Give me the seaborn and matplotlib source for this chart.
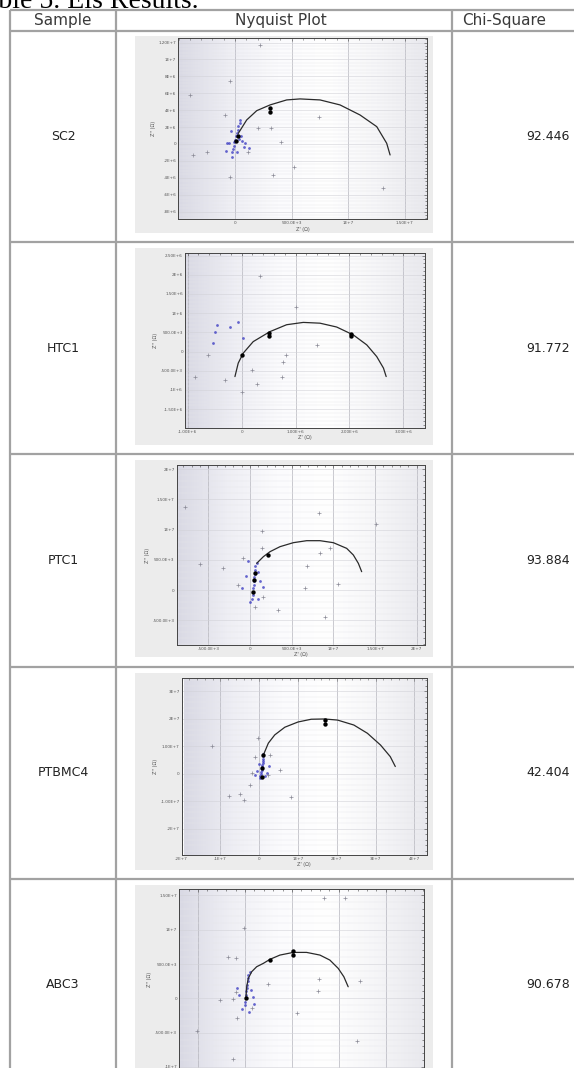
import numpy as np
import pandas as pd
import matplotlib
matplotlib.use("Agg")
import matplotlib.pyplot as plt
from matplotlib.patches import Rectangle
from matplotlib.colors import LinearSegmentedColormap
from matplotlib.ticker import AutoMinorLocator
import seaborn as sns

# ---- donnees du tableau ----
samples = ["SC2", "HTC1", "PTC1", "PTBMC4", "ABC3"]
chi_square = ["92.446", "91.772", "93.884", "42.404", "90.678"]
headers = ["Sample", "Nyquist Plot", "Chi-Square"]

sc2_arc = [(0.29, 1.26), (1.03, 2.84), (1.92, 3.94), (3.10, 4.62), (4.57, 5.21), (5.75, 5.33),
           (7.52, 5.21), (9.29, 4.62), (11.06, 3.43), (12.54, 2.05), (13.42, 0.08), (13.72, -1.30)]
sc2_blue = [(-0.3, -1.5), (-0.25, -1.0), (-0.2, -0.6), (-0.1, -0.2), (-0.05, 0.2), (0.0, 0.5),
            (0.1, 0.9), (0.2, 1.3), (0.25, 1.7), (0.3, 2.1), (0.4, 2.5), (0.44, 2.84), (-0.5, 0.1),
            (0.6, 0.3), (0.8, -0.4), (-0.8, -0.8), (0.15, -0.9), (0.5, 1.0), (-0.4, 1.5),
            (1.2, -0.5), (0.35, 0.6), (-0.73, 0.08), (0.9, 0.08)]
sc2_black = [(3.1, 3.8), (3.1, 4.3), (0.3, 1.0), (0.1, 0.4)]
sc2_gray = [(2.2, 11.7), (-0.44, 7.4), (-4.0, 5.8), (7.4, 3.2), (3.2, 1.86), (2.0, 1.9), (4.1, 0.27),
            (5.2, -2.7), (3.4, -3.7), (-0.44, -3.9), (13.1, -5.2), (-3.7, -1.3), (-2.5, -0.9),
            (1.15, -0.9), (-0.9, 3.4)]

htc1_arc = [(-0.124, -0.651), (-0.063, -0.30), (0.03, -0.04), (0.215, 0.26), (0.525, 0.52),
            (0.835, 0.70), (1.143, 0.76), (1.453, 0.74), (1.762, 0.64), (2.07, 0.435),
            (2.32, 0.175), (2.505, -0.13), (2.63, -0.43), (2.68, -0.65)]
htc1_blue = [(-0.46, 0.70), (-0.22, 0.63), (-0.06, 0.78), (0.03, 0.35), (-0.53, 0.22), (-0.5, 0.52)]
htc1_black = [(0.0, -0.09), (0.51, 0.48), (2.03, 0.46), (0.51, 0.40), (2.03, 0.40)]
htc1_gray = [(0.34, 1.97), (1.0, 1.16), (-0.62, -0.09), (-0.87, -0.65), (-0.31, -0.74), (0.19, -0.48),
             (0.28, -0.84), (0.0, -1.04), (0.74, -0.65), (0.77, -0.26), (0.82, -0.09), (1.39, 0.17)]

ptc1_arc = [(0.8, 4.42), (1.6, 5.52), (2.4, 6.35), (3.6, 7.18), (5.2, 7.84), (6.8, 8.17), (8.4, 8.17),
            (10.0, 7.84), (11.6, 6.9), (12.4, 5.8), (13.0, 4.42), (13.4, 3.04)]
ptc1_blue = [(0.2, -1.5), (0.3, -0.8), (0.4, -0.3), (0.4, 0.3), (0.45, 0.9), (0.5, 1.5), (0.5, 2.1),
             (0.55, 2.7), (0.6, 3.3), (0.6, 3.9), (0.8, 4.5), (-0.5, 2.3), (1.2, 1.5), (0.9, -1.5),
             (-0.3, 4.8), (1.5, 0.5), (-1.0, 0.4), (0.0, -2.0), (1.0, 3.0)]
ptc1_black = [(0.6, 2.8), (0.4, -0.3), (2.2, 5.8), (0.5, 1.6)]
ptc1_gray = [(-7.8, 13.7), (8.3, 12.7), (15.1, 10.9), (1.4, 9.7), (1.4, 6.9), (-6.0, 4.26),
             (-3.2, 3.6), (-0.8, 5.25), (6.8, 4.0), (8.4, 6.1), (9.6, 6.9), (10.6, 1.0), (6.6, 0.3),
             (-1.4, 0.83), (3.4, -3.3), (0.6, -2.8), (1.6, -1.1), (9.0, -4.4)]

ptbmc4_arc = [(1.07, 6.9), (2.35, 11.2), (4.0, 14.2), (6.6, 17.0), (10.0, 18.9), (13.4, 19.9),
              (16.8, 20.0), (20.2, 19.6), (24.4, 17.8), (27.9, 14.8), (31.3, 10.5), (33.8, 6.3),
              (35.1, 2.7)]
ptbmc4_blue = [(0.2, -1.6), (0.3, -0.8), (0.4, 0.0), (0.5, 0.8), (0.6, 1.6), (0.7, 2.4), (0.8, 3.2),
               (0.9, 4.0), (0.95, 4.8), (1.0, 5.6), (1.05, 6.4), (1.07, 7.3), (-0.5, 1.2), (2.0, 0.5),
               (1.5, -0.8), (-1.0, -0.5), (2.5, 3.0), (0.0, 3.5)]
ptbmc4_black = [(17.0, 18.0), (17.0, 19.6), (1.07, 6.9), (0.6, -1.0), (0.8, 2.0)]
ptbmc4_gray = [(-12.1, 10.2), (-0.2, 13.0), (-1.0, 6.1), (2.8, 6.9), (5.3, 1.5), (2.3, -0.4),
               (-2.3, -4.0), (-7.9, -7.9), (-4.9, -7.3), (-4.0, -9.5), (8.3, -8.3), (-1.9, 0.3)]

abc3_arc = [(0.11, 0.24), (0.18, 1.69), (0.35, 2.92), (0.71, 3.88), (1.24, 4.61), (1.95, 5.1),
            (2.66, 5.69), (3.72, 6.31), (5.14, 6.7), (6.56, 6.7), (7.98, 6.31), (9.04, 5.58),
            (9.93, 4.37), (10.53, 3.15), (10.99, 1.69)]
abc3_blue = [(0.0, -1.0), (0.05, -0.5), (0.1, 0.0), (0.12, 0.5), (0.15, 1.0), (0.2, 1.5), (0.22, 2.0),
             (0.28, 2.5), (0.3, 3.0), (0.35, 3.4), (0.5, 3.8), (-0.6, 0.5), (0.8, 0.2), (-0.3, -1.5),
             (1.0, -0.8), (0.6, 1.2), (-0.9, 1.5), (0.4, -2.0)]
abc3_black = [(2.66, 5.6), (5.14, 6.31), (5.14, 6.9), (0.11, 0.1)]
abc3_gray = [(8.4, 14.7), (10.6, 14.7), (-0.1, 10.2), (-1.77, 6.0), (-0.96, 5.83), (-0.96, 0.96),
             (-2.66, -0.25), (-1.24, -0.15), (0.71, -1.46), (-0.82, -2.92), (5.5, -2.19), (2.48, 2.08),
             (7.9, 2.77), (7.8, 1.11), (12.2, 2.57), (-5.07, -4.72), (11.9, -6.18), (-1.3, -8.9)]

# graduations (unite : 1E6 ohm)
sc2_xticks = [0, 5, 10, 15]
sc2_xlabels = ["0", "500.0E+3", "1E+7", "1.50E+7"]
sc2_yticks = [-8, -6, -4, -2, 0, 2, 4, 6, 8, 10, 12]
sc2_ylabels = ["-8E+6", "-6E+6", "-4E+6", "-2E+6", "0", "2E+6", "4E+6", "6E+6", "8E+6", "1E+7", "1.20E+7"]
htc1_xticks = [-1, 0, 1, 2, 3]
htc1_xlabels = ["-1.00E+6", "0", "1.00E+6", "2.00E+6", "3.00E+6"]
htc1_yticks = [-1.5, -1, -0.5, 0, 0.5, 1, 1.5, 2, 2.5]
htc1_ylabels = ["-1.50E+6", "-1E+6", "-500.0E+3", "0", "500.0E+3", "1E+6", "1.50E+6", "2E+6", "2.50E+6"]
ptc1_xticks = [-5, 0, 5, 10, 15, 20]
ptc1_xlabels = ["-500.0E+3", "0", "500.0E+3", "1E+7", "1.50E+7", "2E+7"]
ptc1_yticks = [-5, 0, 5, 10, 15, 20]
ptc1_ylabels = ["-500.0E+3", "0", "500.0E+3", "1E+7", "1.50E+7", "2E+7"]
ptbmc4_xticks = [-20, -10, 0, 10, 20, 30, 40]
ptbmc4_xlabels = ["-2E+7", "-1E+7", "0", "1E+7", "2E+7", "3E+7", "4E+7"]
ptbmc4_yticks = [-20, -10, 0, 10, 20, 30]
ptbmc4_ylabels = ["-2E+7", "-1.00E+7", "0", "1.00E+7", "2E+7", "3E+7"]
abc3_xticks = [-5, 0, 5, 10, 15]
abc3_xlabels = ["-500.0E+3", "0", "500.0E+3", "1E+7", "1.50E+7"]
abc3_yticks = [-10, -5, 0, 5, 10, 15]
abc3_ylabels = ["-1E+7", "-500.0E+3", "0", "500.0E+3", "1E+7", "1.50E+7"]

# ---- mise en page (pixels) ----
W, H = 574, 1068
row_tops = [30, 242, 454, 667, 879]
row_h = 212
col_x = [10, 116, 452]
boxes = [(178.3, 38.3, 426.7, 219.3), (185, 253.3, 425, 428), (176.7, 465, 425, 645),
         (181.7, 678.3, 426.7, 855), (179.3, 889.3, 424.3, 1069)]
limits = [((-5.02, 16.96), (-8.91, 12.5)), ((-1.05, 3.40), (-1.99, 2.56)),
          ((-8.8, 21.0), (-9.1, 20.7)), ((-19.3, 43.2), (-29.5, 34.8)),
          ((-7.0, 19.1), (-10.3, 15.9))]

sns.set_style("white")
plt.rcParams['font.family'] = ['DejaVu Sans']

fig = plt.figure(figsize=(W / 100, H / 100), dpi=100)
bg = fig.add_axes([0, 0, 1, 1])
bg.set_xlim(0, W)
bg.set_ylim(H, 0)
bg.axis('off')

# titre coupe en haut
bg.text(-29, 8, "Table 5. Eis Results.", fontfamily='Liberation Serif', fontsize=20,
        ha='left', va='baseline', color='black')

# lignes du tableau
line_kw = dict(color='#a2a2a2', lw=1.6, solid_capstyle='butt')
bg.plot([col_x[0], W], [10, 10], **line_kw)
bg.plot([col_x[0], W], [30.5, 30.5], **line_kw)
for t in row_tops[1:]:
    bg.plot([col_x[0], W], [t, t], **line_kw)
for x in col_x:
    bg.plot([x, x], [10, H], **line_kw)

# en-tetes
bg.text(63, 20.5, headers[0], fontsize=11, ha='center', va='center', color='#3a3a3a')
bg.text(281, 20.5, headers[1], fontsize=11, ha='center', va='center', color='#3a3a3a')
bg.text(462, 20.5, headers[2], fontsize=11, ha='left', va='center', color='#3a3a3a')

for i, t in enumerate(row_tops):
    yc = t + row_h / 2
    bg.text(63, yc, samples[i], fontsize=9, ha='center', va='center', color='#222222')
    bg.text(570, yc, chi_square[i], fontsize=9, ha='right', va='center', color='#222222')
    bg.add_patch(Rectangle((135, t + 6), 298, row_h - 15, facecolor='#ececec',
                           edgecolor='none', zorder=1))

bg_cmap = LinearSegmentedColormap.from_list(
    'fond', ['#d9d9e4', '#eeeef4', '#fbfbfd', '#ffffff', '#f6f6f8', '#e9e9ee'])
grad = np.linspace(0, 1, 200).reshape(1, -1)


def nyquist(ax, arc, blue, black, gray, lims, xticks, xlabels, yticks, ylabels):
    xlim, ylim = lims
    ax.imshow(grad, extent=(xlim[0], xlim[1], ylim[0], ylim[1]), aspect='auto',
              cmap=bg_cmap, zorder=0)
    g = pd.DataFrame(gray, columns=['zr', 'zi'])
    b = pd.DataFrame(blue, columns=['zr', 'zi'])
    a = pd.DataFrame(arc, columns=['zr', 'zi'])
    k = pd.DataFrame(black, columns=['zr', 'zi'])
    sns.scatterplot(data=g, x='zr', y='zi', ax=ax, marker='+', s=7, color='#8a8a96',
                    linewidth=0.5, zorder=3)
    sns.scatterplot(data=b, x='zr', y='zi', ax=ax, marker='o', s=4, color='#3434c0',
                    alpha=0.75, linewidth=0, zorder=4)
    sns.lineplot(data=a, x='zr', y='zi', ax=ax, sort=False, estimator=None,
                 color='#2a2a2a', linewidth=0.9, zorder=5)
    sns.scatterplot(data=k, x='zr', y='zi', ax=ax, marker='o', s=10, color='black',
                    linewidth=0, zorder=6)
    ax.set_xlim(*xlim)
    ax.set_ylim(*ylim)
    ax.set_xticks(xticks)
    ax.set_xticklabels(xlabels)
    ax.set_yticks(yticks)
    ax.set_yticklabels(ylabels)
    ax.xaxis.set_minor_locator(AutoMinorLocator(5))
    ax.yaxis.set_minor_locator(AutoMinorLocator(5))
    ax.tick_params(which='both', direction='in', top=True, right=True, width=0.4,
                   color='#444444', labelsize=3, labelcolor='#555555', pad=1.5)
    ax.tick_params(which='major', length=2.2)
    ax.tick_params(which='minor', length=1.2)
    ax.set_axisbelow(True)
    ax.grid(True, which='major', axis='x', color='#b4b4bc', lw=0.5)
    ax.grid(True, which='major', axis='y', color='#d2d2d8', lw=0.4)
    ax.grid(True, which='minor', axis='y', color='#e6e6ea', lw=0.3)
    for s in ax.spines.values():
        s.set_color('#444444')
        s.set_linewidth(0.7)
    ax.set_xlabel("Z' (Ω)", fontsize=3.5, labelpad=1, color='#555555')
    ax.set_ylabel("Z'' (Ω)", fontsize=3.5, labelpad=2, color='#555555')


series = [
    (sc2_arc, sc2_blue, sc2_black, sc2_gray, sc2_xticks, sc2_xlabels, sc2_yticks, sc2_ylabels),
    (htc1_arc, htc1_blue, htc1_black, htc1_gray, htc1_xticks, htc1_xlabels, htc1_yticks, htc1_ylabels),
    (ptc1_arc, ptc1_blue, ptc1_black, ptc1_gray, ptc1_xticks, ptc1_xlabels, ptc1_yticks, ptc1_ylabels),
    (ptbmc4_arc, ptbmc4_blue, ptbmc4_black, ptbmc4_gray, ptbmc4_xticks, ptbmc4_xlabels,
     ptbmc4_yticks, ptbmc4_ylabels),
    (abc3_arc, abc3_blue, abc3_black, abc3_gray, abc3_xticks, abc3_xlabels, abc3_yticks, abc3_ylabels),
]

for (l, t, r, bt), lims, s in zip(boxes, limits, series):
    ax = fig.add_axes([l / W, 1 - bt / H, (r - l) / W, (bt - t) / H])
    arc, blue, black, gray, xt, xl, yt, yl = s
    nyquist(ax, arc, blue, black, gray, lims, xt, xl, yt, yl)

fig.savefig("out.png", dpi=100)
